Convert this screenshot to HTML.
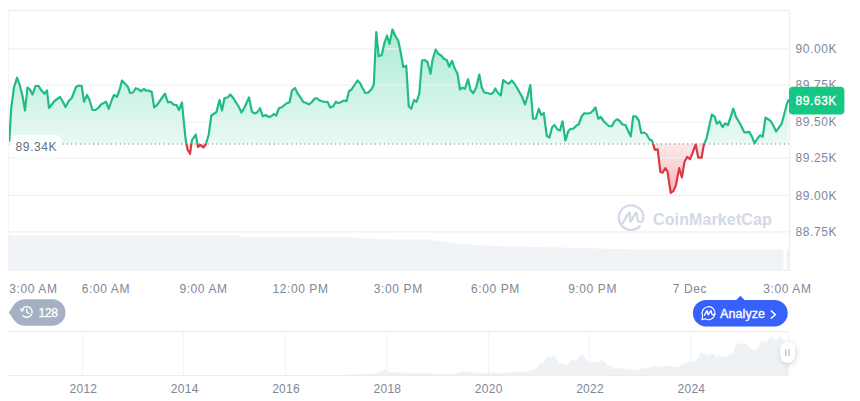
<!DOCTYPE html>
<html><head><meta charset="utf-8"><title>Chart</title>
<style>
html,body{margin:0;padding:0;background:#fff;}
body{width:860px;height:401px;overflow:hidden;font-family:"Liberation Sans",sans-serif;}
svg{display:block;}
.g{stroke:#eaecef;stroke-width:1;shape-rendering:crispEdges;}
.h{stroke:#eef0f3;stroke-width:1.2;}
.v{stroke:#f2f4f7;stroke-width:1;shape-rendering:crispEdges;}
.t{font-family:"Liberation Sans",sans-serif;font-size:12px;fill:#7e8799;letter-spacing:0.6px;}
</style></head><body>
<svg width="860" height="401" viewBox="0 0 860 401">
<defs>
<linearGradient id="gg" gradientUnits="userSpaceOnUse" x1="0" y1="28" x2="0" y2="143.5">
<stop offset="0" stop-color="#16c784" stop-opacity="0.36"/><stop offset="1" stop-color="#16c784" stop-opacity="0.10"/></linearGradient>
<linearGradient id="rg" gradientUnits="userSpaceOnUse" x1="0" y1="143.5" x2="0" y2="196">
<stop offset="0" stop-color="#ea3943" stop-opacity="0.10"/><stop offset="1" stop-color="#ea3943" stop-opacity="0.40"/></linearGradient>
<pattern id="vp" patternUnits="userSpaceOnUse" x="7.7" y="0" width="2.708" height="40"><rect x="0" y="0" width="2.708" height="40" fill="#f9fafc"/><rect x="0.2" y="0" width="2.1" height="40" fill="#eef1f5"/></pattern>
<clipPath id="up"><rect x="9" y="0" width="781" height="143.5"/></clipPath>
<clipPath id="dn"><rect x="9" y="143.5" width="781" height="200"/></clipPath>
<filter id="sh" x="-50%" y="-50%" width="200%" height="200%"><feDropShadow dx="0.5" dy="1.5" stdDeviation="2.4" flood-color="#58667e" flood-opacity="0.3"/></filter>
</defs>
<rect width="860" height="401" fill="#fff"/>
<!-- frame + grid -->
<line x1="8" x2="789" y1="10.5" y2="10.5" class="g"/>
<line x1="8" x2="789" y1="270.5" y2="270.5" class="g"/>
<line x1="8.5" x2="8.5" y1="10" y2="271" class="v"/>
<line x1="789.5" x2="789.5" y1="10" y2="271" class="g"/>
<!-- volume -->
<path d="M7.7,271 L7.7,235.2 L238,235.2 L240,236.8 L348,237 L360,238.6 L400,239.4 L428,239.6 L440,241.3 L458,243.6 L481,245.5 L512,246.4 L560,247.6 L600,248.4 L640,249.4 L783.2,249.6 L783.2,271 Z" fill="url(#vp)"/>
<rect x="786.3" y="249.6" width="2.3" height="21.4" fill="#eef1f5"/>
<!-- watermark -->
<g opacity="1">
<g transform="translate(631.1,217.6)" fill="none" stroke="#d3d9e5" stroke-width="2.25" stroke-linecap="round" stroke-linejoin="round">
<path d="M8.85,8.54 A12.3,12.3 0 1 1 12.18,1.71 Q11.3,4.5 8.9,4.4 Q6.6,4.3 6.3,1.5 L5.9,-3.0 Q5.6,-5.6 4.0,-3.8 L0.0,3.4 Q-0.9,4.8 -1.0,3.0 L-1.2,-3.8 Q-1.5,-6.4 -3.0,-4.0 L-8.6,5.9"/>
</g>
<text x="653" y="224.6" font-family="Liberation Sans, sans-serif" font-weight="bold" font-size="16px" fill="#d3d9e5" letter-spacing="0.12">CoinMarketCap</text>
</g>
<!-- price area + line -->
<g clip-path="url(#up)"><path d="M9.30,141.00 L11.25,107.50 L14.00,87.50 L17.00,77.70 L20.00,86.00 L22.50,96.00 L25.00,110.50 L27.50,87.50 L30.00,89.50 L32.50,94.50 L35.50,86.00 L38.75,86.00 L41.00,90.00 L44.50,93.75 L47.00,90.50 L49.00,108.00 L51.00,105.50 L54.50,101.00 L60.00,97.00 L62.50,101.00 L65.50,107.00 L68.75,101.00 L71.75,98.00 L76.00,87.00 L78.75,85.50 L81.75,86.00 L84.00,101.75 L87.00,95.00 L89.50,100.00 L92.50,110.00 L95.50,110.00 L98.75,107.50 L101.00,104.50 L106.00,101.75 L108.75,108.75 L111.75,100.00 L114.00,95.00 L117.00,96.75 L119.50,90.00 L122.00,80.50 L125.00,83.75 L128.00,87.00 L130.00,93.00 L133.00,92.50 L135.75,88.25 L138.75,89.50 L141.25,91.25 L143.75,89.00 L146.25,90.75 L148.75,90.50 L151.75,92.00 L154.25,107.50 L157.00,105.00 L160.00,100.75 L165.00,93.75 L168.00,102.50 L170.50,101.75 L172.50,103.75 L174.50,105.00 L176.50,105.00 L179.00,110.00 L182.00,102.50 L184.00,123.75 L185.75,140.00 L187.50,149.50 L190.00,153.75 L192.00,140.00 L195.75,134.50 L198.00,147.00 L200.50,144.80 L203.25,147.50 L205.75,144.50 L208.75,134.50 L211.25,115.75 L214.00,113.75 L216.50,112.00 L219.50,100.00 L222.00,110.50 L224.50,98.00 L227.50,97.50 L230.25,94.50 L233.25,98.00 L235.75,102.00 L238.75,106.75 L241.50,112.50 L244.50,107.50 L249.00,97.50 L252.00,112.00 L255.00,113.50 L257.50,112.00 L260.00,108.25 L262.75,116.25 L265.75,115.00 L268.75,117.00 L271.25,116.25 L273.75,114.00 L276.25,115.50 L279.00,108.00 L281.50,107.50 L284.50,105.00 L287.00,103.00 L289.50,102.50 L292.00,90.50 L295.00,88.00 L297.75,93.75 L300.25,97.00 L303.25,102.00 L306.50,103.00 L309.00,104.50 L311.50,102.50 L314.50,98.75 L316.50,98.00 L319.00,100.00 L322.00,101.25 L325.00,102.00 L327.50,101.75 L330.25,107.50 L333.25,106.25 L335.75,101.75 L338.25,103.25 L341.25,102.00 L344.00,100.50 L346.50,101.25 L349.00,91.25 L351.50,89.50 L354.50,85.00 L357.50,80.50 L360.00,83.00 L362.50,88.00 L365.25,93.00 L368.25,92.50 L371.25,89.50 L373.75,85.00 L376.25,32.00 L378.75,56.25 L381.75,55.00 L384.50,42.50 L387.00,35.50 L389.50,43.75 L392.50,29.50 L395.50,36.25 L398.25,40.75 L400.75,52.50 L403.25,67.00 L406.25,65.75 L408.75,106.25 L411.25,108.75 L414.00,100.00 L416.50,102.00 L419.25,93.75 L422.00,60.50 L424.50,60.00 L427.50,62.00 L430.50,73.75 L432.50,60.00 L435.75,49.50 L438.25,53.75 L441.25,55.50 L443.75,58.75 L446.75,60.00 L449.25,66.75 L452.00,60.75 L454.50,68.00 L457.50,73.75 L460.00,89.50 L462.50,87.50 L465.00,88.75 L468.00,79.25 L470.50,90.00 L473.25,93.25 L476.25,87.50 L479.25,74.50 L481.75,87.50 L484.25,92.50 L487.50,93.00 L490.50,94.00 L493.00,93.00 L495.25,88.50 L498.00,93.00 L500.75,95.50 L503.25,80.00 L506.25,82.50 L508.75,83.75 L511.75,80.50 L514.50,83.75 L517.50,88.75 L522.00,96.75 L525.00,104.50 L527.50,96.50 L530.30,85.00 L533.00,118.75 L535.75,118.75 L538.75,108.75 L541.25,115.00 L543.75,113.00 L546.75,135.75 L549.50,137.50 L552.00,127.50 L554.50,125.00 L557.50,129.50 L560.00,130.50 L562.50,121.25 L565.50,140.50 L568.25,131.25 L570.75,128.75 L573.25,128.75 L576.25,125.75 L578.75,124.25 L581.75,116.25 L584.25,113.25 L587.50,113.50 L590.50,113.00 L593.00,110.75 L595.50,107.50 L598.25,118.75 L600.75,117.00 L603.75,121.25 L606.25,123.75 L609.25,126.25 L611.75,126.25 L614.50,121.25 L617.00,119.25 L620.00,121.25 L622.50,124.50 L625.50,125.00 L628.25,131.25 L630.75,136.25 L633.25,116.25 L635.75,116.25 L638.75,120.50 L641.25,133.00 L644.25,132.50 L646.75,134.50 L649.50,139.50 L652.00,140.50 L654.90,149.90 L657.70,149.30 L660.40,172.00 L662.60,172.60 L665.40,168.20 L667.50,171.50 L670.70,192.90 L673.50,190.90 L675.90,185.20 L679.20,168.20 L681.90,177.50 L684.50,161.70 L687.30,156.90 L690.00,159.30 L692.90,152.00 L695.70,144.50 L698.30,157.70 L701.50,157.70 L704.00,143.90 L706.50,138.60 L709.40,125.50 L711.80,114.70 L714.60,116.50 L716.80,123.70 L719.60,121.40 L722.50,127.00 L725.30,123.30 L728.00,125.10 L730.90,116.20 L733.30,108.70 L736.10,117.10 L738.90,121.80 L741.50,126.50 L744.30,132.40 L746.80,132.40 L749.20,131.70 L752.00,136.80 L754.60,143.30 L757.10,139.00 L759.90,135.30 L762.70,136.80 L765.50,117.70 L768.30,119.30 L770.70,121.20 L773.50,125.90 L776.20,131.50 L779.00,127.40 L781.80,123.30 L784.20,114.30 L786.60,104.90 L788.30,100.30 L788.30,143.5 L9.30,143.5 Z" fill="url(#gg)"/></g>
<g clip-path="url(#dn)"><path d="M9.30,141.00 L11.25,107.50 L14.00,87.50 L17.00,77.70 L20.00,86.00 L22.50,96.00 L25.00,110.50 L27.50,87.50 L30.00,89.50 L32.50,94.50 L35.50,86.00 L38.75,86.00 L41.00,90.00 L44.50,93.75 L47.00,90.50 L49.00,108.00 L51.00,105.50 L54.50,101.00 L60.00,97.00 L62.50,101.00 L65.50,107.00 L68.75,101.00 L71.75,98.00 L76.00,87.00 L78.75,85.50 L81.75,86.00 L84.00,101.75 L87.00,95.00 L89.50,100.00 L92.50,110.00 L95.50,110.00 L98.75,107.50 L101.00,104.50 L106.00,101.75 L108.75,108.75 L111.75,100.00 L114.00,95.00 L117.00,96.75 L119.50,90.00 L122.00,80.50 L125.00,83.75 L128.00,87.00 L130.00,93.00 L133.00,92.50 L135.75,88.25 L138.75,89.50 L141.25,91.25 L143.75,89.00 L146.25,90.75 L148.75,90.50 L151.75,92.00 L154.25,107.50 L157.00,105.00 L160.00,100.75 L165.00,93.75 L168.00,102.50 L170.50,101.75 L172.50,103.75 L174.50,105.00 L176.50,105.00 L179.00,110.00 L182.00,102.50 L184.00,123.75 L185.75,140.00 L187.50,149.50 L190.00,153.75 L192.00,140.00 L195.75,134.50 L198.00,147.00 L200.50,144.80 L203.25,147.50 L205.75,144.50 L208.75,134.50 L211.25,115.75 L214.00,113.75 L216.50,112.00 L219.50,100.00 L222.00,110.50 L224.50,98.00 L227.50,97.50 L230.25,94.50 L233.25,98.00 L235.75,102.00 L238.75,106.75 L241.50,112.50 L244.50,107.50 L249.00,97.50 L252.00,112.00 L255.00,113.50 L257.50,112.00 L260.00,108.25 L262.75,116.25 L265.75,115.00 L268.75,117.00 L271.25,116.25 L273.75,114.00 L276.25,115.50 L279.00,108.00 L281.50,107.50 L284.50,105.00 L287.00,103.00 L289.50,102.50 L292.00,90.50 L295.00,88.00 L297.75,93.75 L300.25,97.00 L303.25,102.00 L306.50,103.00 L309.00,104.50 L311.50,102.50 L314.50,98.75 L316.50,98.00 L319.00,100.00 L322.00,101.25 L325.00,102.00 L327.50,101.75 L330.25,107.50 L333.25,106.25 L335.75,101.75 L338.25,103.25 L341.25,102.00 L344.00,100.50 L346.50,101.25 L349.00,91.25 L351.50,89.50 L354.50,85.00 L357.50,80.50 L360.00,83.00 L362.50,88.00 L365.25,93.00 L368.25,92.50 L371.25,89.50 L373.75,85.00 L376.25,32.00 L378.75,56.25 L381.75,55.00 L384.50,42.50 L387.00,35.50 L389.50,43.75 L392.50,29.50 L395.50,36.25 L398.25,40.75 L400.75,52.50 L403.25,67.00 L406.25,65.75 L408.75,106.25 L411.25,108.75 L414.00,100.00 L416.50,102.00 L419.25,93.75 L422.00,60.50 L424.50,60.00 L427.50,62.00 L430.50,73.75 L432.50,60.00 L435.75,49.50 L438.25,53.75 L441.25,55.50 L443.75,58.75 L446.75,60.00 L449.25,66.75 L452.00,60.75 L454.50,68.00 L457.50,73.75 L460.00,89.50 L462.50,87.50 L465.00,88.75 L468.00,79.25 L470.50,90.00 L473.25,93.25 L476.25,87.50 L479.25,74.50 L481.75,87.50 L484.25,92.50 L487.50,93.00 L490.50,94.00 L493.00,93.00 L495.25,88.50 L498.00,93.00 L500.75,95.50 L503.25,80.00 L506.25,82.50 L508.75,83.75 L511.75,80.50 L514.50,83.75 L517.50,88.75 L522.00,96.75 L525.00,104.50 L527.50,96.50 L530.30,85.00 L533.00,118.75 L535.75,118.75 L538.75,108.75 L541.25,115.00 L543.75,113.00 L546.75,135.75 L549.50,137.50 L552.00,127.50 L554.50,125.00 L557.50,129.50 L560.00,130.50 L562.50,121.25 L565.50,140.50 L568.25,131.25 L570.75,128.75 L573.25,128.75 L576.25,125.75 L578.75,124.25 L581.75,116.25 L584.25,113.25 L587.50,113.50 L590.50,113.00 L593.00,110.75 L595.50,107.50 L598.25,118.75 L600.75,117.00 L603.75,121.25 L606.25,123.75 L609.25,126.25 L611.75,126.25 L614.50,121.25 L617.00,119.25 L620.00,121.25 L622.50,124.50 L625.50,125.00 L628.25,131.25 L630.75,136.25 L633.25,116.25 L635.75,116.25 L638.75,120.50 L641.25,133.00 L644.25,132.50 L646.75,134.50 L649.50,139.50 L652.00,140.50 L654.90,149.90 L657.70,149.30 L660.40,172.00 L662.60,172.60 L665.40,168.20 L667.50,171.50 L670.70,192.90 L673.50,190.90 L675.90,185.20 L679.20,168.20 L681.90,177.50 L684.50,161.70 L687.30,156.90 L690.00,159.30 L692.90,152.00 L695.70,144.50 L698.30,157.70 L701.50,157.70 L704.00,143.90 L706.50,138.60 L709.40,125.50 L711.80,114.70 L714.60,116.50 L716.80,123.70 L719.60,121.40 L722.50,127.00 L725.30,123.30 L728.00,125.10 L730.90,116.20 L733.30,108.70 L736.10,117.10 L738.90,121.80 L741.50,126.50 L744.30,132.40 L746.80,132.40 L749.20,131.70 L752.00,136.80 L754.60,143.30 L757.10,139.00 L759.90,135.30 L762.70,136.80 L765.50,117.70 L768.30,119.30 L770.70,121.20 L773.50,125.90 L776.20,131.50 L779.00,127.40 L781.80,123.30 L784.20,114.30 L786.60,104.90 L788.30,100.30 L788.30,143.5 L9.30,143.5 Z" fill="url(#rg)"/></g>
<line x1="8" x2="789" y1="48.9" y2="48.9" class="h"/>
<line x1="8" x2="789" y1="85.0" y2="85.0" class="h"/>
<line x1="8" x2="789" y1="122.1" y2="122.1" class="h"/>
<line x1="8" x2="789" y1="158.2" y2="158.2" class="h"/>
<line x1="8" x2="789" y1="195.4" y2="195.4" class="h"/>
<line x1="8" x2="789" y1="231.9" y2="231.9" class="h"/>
<line x1="9.6" x2="789" y1="144" y2="144" stroke="#9ea4b0" stroke-width="1.3" stroke-dasharray="1.2 3.2"/>
<g clip-path="url(#up)"><path d="M9.30,141.00 L11.25,107.50 L14.00,87.50 L17.00,77.70 L20.00,86.00 L22.50,96.00 L25.00,110.50 L27.50,87.50 L30.00,89.50 L32.50,94.50 L35.50,86.00 L38.75,86.00 L41.00,90.00 L44.50,93.75 L47.00,90.50 L49.00,108.00 L51.00,105.50 L54.50,101.00 L60.00,97.00 L62.50,101.00 L65.50,107.00 L68.75,101.00 L71.75,98.00 L76.00,87.00 L78.75,85.50 L81.75,86.00 L84.00,101.75 L87.00,95.00 L89.50,100.00 L92.50,110.00 L95.50,110.00 L98.75,107.50 L101.00,104.50 L106.00,101.75 L108.75,108.75 L111.75,100.00 L114.00,95.00 L117.00,96.75 L119.50,90.00 L122.00,80.50 L125.00,83.75 L128.00,87.00 L130.00,93.00 L133.00,92.50 L135.75,88.25 L138.75,89.50 L141.25,91.25 L143.75,89.00 L146.25,90.75 L148.75,90.50 L151.75,92.00 L154.25,107.50 L157.00,105.00 L160.00,100.75 L165.00,93.75 L168.00,102.50 L170.50,101.75 L172.50,103.75 L174.50,105.00 L176.50,105.00 L179.00,110.00 L182.00,102.50 L184.00,123.75 L185.75,140.00 L187.50,149.50 L190.00,153.75 L192.00,140.00 L195.75,134.50 L198.00,147.00 L200.50,144.80 L203.25,147.50 L205.75,144.50 L208.75,134.50 L211.25,115.75 L214.00,113.75 L216.50,112.00 L219.50,100.00 L222.00,110.50 L224.50,98.00 L227.50,97.50 L230.25,94.50 L233.25,98.00 L235.75,102.00 L238.75,106.75 L241.50,112.50 L244.50,107.50 L249.00,97.50 L252.00,112.00 L255.00,113.50 L257.50,112.00 L260.00,108.25 L262.75,116.25 L265.75,115.00 L268.75,117.00 L271.25,116.25 L273.75,114.00 L276.25,115.50 L279.00,108.00 L281.50,107.50 L284.50,105.00 L287.00,103.00 L289.50,102.50 L292.00,90.50 L295.00,88.00 L297.75,93.75 L300.25,97.00 L303.25,102.00 L306.50,103.00 L309.00,104.50 L311.50,102.50 L314.50,98.75 L316.50,98.00 L319.00,100.00 L322.00,101.25 L325.00,102.00 L327.50,101.75 L330.25,107.50 L333.25,106.25 L335.75,101.75 L338.25,103.25 L341.25,102.00 L344.00,100.50 L346.50,101.25 L349.00,91.25 L351.50,89.50 L354.50,85.00 L357.50,80.50 L360.00,83.00 L362.50,88.00 L365.25,93.00 L368.25,92.50 L371.25,89.50 L373.75,85.00 L376.25,32.00 L378.75,56.25 L381.75,55.00 L384.50,42.50 L387.00,35.50 L389.50,43.75 L392.50,29.50 L395.50,36.25 L398.25,40.75 L400.75,52.50 L403.25,67.00 L406.25,65.75 L408.75,106.25 L411.25,108.75 L414.00,100.00 L416.50,102.00 L419.25,93.75 L422.00,60.50 L424.50,60.00 L427.50,62.00 L430.50,73.75 L432.50,60.00 L435.75,49.50 L438.25,53.75 L441.25,55.50 L443.75,58.75 L446.75,60.00 L449.25,66.75 L452.00,60.75 L454.50,68.00 L457.50,73.75 L460.00,89.50 L462.50,87.50 L465.00,88.75 L468.00,79.25 L470.50,90.00 L473.25,93.25 L476.25,87.50 L479.25,74.50 L481.75,87.50 L484.25,92.50 L487.50,93.00 L490.50,94.00 L493.00,93.00 L495.25,88.50 L498.00,93.00 L500.75,95.50 L503.25,80.00 L506.25,82.50 L508.75,83.75 L511.75,80.50 L514.50,83.75 L517.50,88.75 L522.00,96.75 L525.00,104.50 L527.50,96.50 L530.30,85.00 L533.00,118.75 L535.75,118.75 L538.75,108.75 L541.25,115.00 L543.75,113.00 L546.75,135.75 L549.50,137.50 L552.00,127.50 L554.50,125.00 L557.50,129.50 L560.00,130.50 L562.50,121.25 L565.50,140.50 L568.25,131.25 L570.75,128.75 L573.25,128.75 L576.25,125.75 L578.75,124.25 L581.75,116.25 L584.25,113.25 L587.50,113.50 L590.50,113.00 L593.00,110.75 L595.50,107.50 L598.25,118.75 L600.75,117.00 L603.75,121.25 L606.25,123.75 L609.25,126.25 L611.75,126.25 L614.50,121.25 L617.00,119.25 L620.00,121.25 L622.50,124.50 L625.50,125.00 L628.25,131.25 L630.75,136.25 L633.25,116.25 L635.75,116.25 L638.75,120.50 L641.25,133.00 L644.25,132.50 L646.75,134.50 L649.50,139.50 L652.00,140.50 L654.90,149.90 L657.70,149.30 L660.40,172.00 L662.60,172.60 L665.40,168.20 L667.50,171.50 L670.70,192.90 L673.50,190.90 L675.90,185.20 L679.20,168.20 L681.90,177.50 L684.50,161.70 L687.30,156.90 L690.00,159.30 L692.90,152.00 L695.70,144.50 L698.30,157.70 L701.50,157.70 L704.00,143.90 L706.50,138.60 L709.40,125.50 L711.80,114.70 L714.60,116.50 L716.80,123.70 L719.60,121.40 L722.50,127.00 L725.30,123.30 L728.00,125.10 L730.90,116.20 L733.30,108.70 L736.10,117.10 L738.90,121.80 L741.50,126.50 L744.30,132.40 L746.80,132.40 L749.20,131.70 L752.00,136.80 L754.60,143.30 L757.10,139.00 L759.90,135.30 L762.70,136.80 L765.50,117.70 L768.30,119.30 L770.70,121.20 L773.50,125.90 L776.20,131.50 L779.00,127.40 L781.80,123.30 L784.20,114.30 L786.60,104.90 L788.30,100.30" fill="none" stroke="#20bc83" stroke-width="2.2" stroke-linejoin="round" stroke-linecap="round"/></g>
<g clip-path="url(#dn)"><path d="M9.30,141.00 L11.25,107.50 L14.00,87.50 L17.00,77.70 L20.00,86.00 L22.50,96.00 L25.00,110.50 L27.50,87.50 L30.00,89.50 L32.50,94.50 L35.50,86.00 L38.75,86.00 L41.00,90.00 L44.50,93.75 L47.00,90.50 L49.00,108.00 L51.00,105.50 L54.50,101.00 L60.00,97.00 L62.50,101.00 L65.50,107.00 L68.75,101.00 L71.75,98.00 L76.00,87.00 L78.75,85.50 L81.75,86.00 L84.00,101.75 L87.00,95.00 L89.50,100.00 L92.50,110.00 L95.50,110.00 L98.75,107.50 L101.00,104.50 L106.00,101.75 L108.75,108.75 L111.75,100.00 L114.00,95.00 L117.00,96.75 L119.50,90.00 L122.00,80.50 L125.00,83.75 L128.00,87.00 L130.00,93.00 L133.00,92.50 L135.75,88.25 L138.75,89.50 L141.25,91.25 L143.75,89.00 L146.25,90.75 L148.75,90.50 L151.75,92.00 L154.25,107.50 L157.00,105.00 L160.00,100.75 L165.00,93.75 L168.00,102.50 L170.50,101.75 L172.50,103.75 L174.50,105.00 L176.50,105.00 L179.00,110.00 L182.00,102.50 L184.00,123.75 L185.75,140.00 L187.50,149.50 L190.00,153.75 L192.00,140.00 L195.75,134.50 L198.00,147.00 L200.50,144.80 L203.25,147.50 L205.75,144.50 L208.75,134.50 L211.25,115.75 L214.00,113.75 L216.50,112.00 L219.50,100.00 L222.00,110.50 L224.50,98.00 L227.50,97.50 L230.25,94.50 L233.25,98.00 L235.75,102.00 L238.75,106.75 L241.50,112.50 L244.50,107.50 L249.00,97.50 L252.00,112.00 L255.00,113.50 L257.50,112.00 L260.00,108.25 L262.75,116.25 L265.75,115.00 L268.75,117.00 L271.25,116.25 L273.75,114.00 L276.25,115.50 L279.00,108.00 L281.50,107.50 L284.50,105.00 L287.00,103.00 L289.50,102.50 L292.00,90.50 L295.00,88.00 L297.75,93.75 L300.25,97.00 L303.25,102.00 L306.50,103.00 L309.00,104.50 L311.50,102.50 L314.50,98.75 L316.50,98.00 L319.00,100.00 L322.00,101.25 L325.00,102.00 L327.50,101.75 L330.25,107.50 L333.25,106.25 L335.75,101.75 L338.25,103.25 L341.25,102.00 L344.00,100.50 L346.50,101.25 L349.00,91.25 L351.50,89.50 L354.50,85.00 L357.50,80.50 L360.00,83.00 L362.50,88.00 L365.25,93.00 L368.25,92.50 L371.25,89.50 L373.75,85.00 L376.25,32.00 L378.75,56.25 L381.75,55.00 L384.50,42.50 L387.00,35.50 L389.50,43.75 L392.50,29.50 L395.50,36.25 L398.25,40.75 L400.75,52.50 L403.25,67.00 L406.25,65.75 L408.75,106.25 L411.25,108.75 L414.00,100.00 L416.50,102.00 L419.25,93.75 L422.00,60.50 L424.50,60.00 L427.50,62.00 L430.50,73.75 L432.50,60.00 L435.75,49.50 L438.25,53.75 L441.25,55.50 L443.75,58.75 L446.75,60.00 L449.25,66.75 L452.00,60.75 L454.50,68.00 L457.50,73.75 L460.00,89.50 L462.50,87.50 L465.00,88.75 L468.00,79.25 L470.50,90.00 L473.25,93.25 L476.25,87.50 L479.25,74.50 L481.75,87.50 L484.25,92.50 L487.50,93.00 L490.50,94.00 L493.00,93.00 L495.25,88.50 L498.00,93.00 L500.75,95.50 L503.25,80.00 L506.25,82.50 L508.75,83.75 L511.75,80.50 L514.50,83.75 L517.50,88.75 L522.00,96.75 L525.00,104.50 L527.50,96.50 L530.30,85.00 L533.00,118.75 L535.75,118.75 L538.75,108.75 L541.25,115.00 L543.75,113.00 L546.75,135.75 L549.50,137.50 L552.00,127.50 L554.50,125.00 L557.50,129.50 L560.00,130.50 L562.50,121.25 L565.50,140.50 L568.25,131.25 L570.75,128.75 L573.25,128.75 L576.25,125.75 L578.75,124.25 L581.75,116.25 L584.25,113.25 L587.50,113.50 L590.50,113.00 L593.00,110.75 L595.50,107.50 L598.25,118.75 L600.75,117.00 L603.75,121.25 L606.25,123.75 L609.25,126.25 L611.75,126.25 L614.50,121.25 L617.00,119.25 L620.00,121.25 L622.50,124.50 L625.50,125.00 L628.25,131.25 L630.75,136.25 L633.25,116.25 L635.75,116.25 L638.75,120.50 L641.25,133.00 L644.25,132.50 L646.75,134.50 L649.50,139.50 L652.00,140.50 L654.90,149.90 L657.70,149.30 L660.40,172.00 L662.60,172.60 L665.40,168.20 L667.50,171.50 L670.70,192.90 L673.50,190.90 L675.90,185.20 L679.20,168.20 L681.90,177.50 L684.50,161.70 L687.30,156.90 L690.00,159.30 L692.90,152.00 L695.70,144.50 L698.30,157.70 L701.50,157.70 L704.00,143.90 L706.50,138.60 L709.40,125.50 L711.80,114.70 L714.60,116.50 L716.80,123.70 L719.60,121.40 L722.50,127.00 L725.30,123.30 L728.00,125.10 L730.90,116.20 L733.30,108.70 L736.10,117.10 L738.90,121.80 L741.50,126.50 L744.30,132.40 L746.80,132.40 L749.20,131.70 L752.00,136.80 L754.60,143.30 L757.10,139.00 L759.90,135.30 L762.70,136.80 L765.50,117.70 L768.30,119.30 L770.70,121.20 L773.50,125.90 L776.20,131.50 L779.00,127.40 L781.80,123.30 L784.20,114.30 L786.60,104.90 L788.30,100.30" fill="none" stroke="#d93b46" stroke-width="2.2" stroke-linejoin="round" stroke-linecap="round"/></g>
<!-- open price label -->
<rect x="10.3" y="134.7" width="51.2" height="23.7" rx="7" fill="#fff" fill-opacity="0.92"/>
<text x="15.6" y="151.1" class="t" style="fill:#616e85">89.34K</text>
<!-- y labels -->
<text x="795.6" y="53.1" class="t">90.00K</text>
<text x="795.6" y="89.2" class="t">89.75K</text>
<text x="795.6" y="126.3" class="t">89.50K</text>
<text x="795.6" y="162.4" class="t">89.25K</text>
<text x="795.6" y="199.6" class="t">89.00K</text>
<text x="795.6" y="236.1" class="t">88.75K</text>
<!-- current price tag -->
<rect x="789" y="86.8" width="55.4" height="27.8" rx="4" fill="#16c784"/>
<text x="795.6" y="105.2" font-family="Liberation Sans, sans-serif" font-size="12px" fill="#fff" letter-spacing="0.55" stroke="#fff" stroke-width="0.35">89.63K</text>
<!-- x labels -->
<text x="9.3" y="292.5" text-anchor="start" class="t">3:00 AM</text>
<text x="105.9" y="292.5" text-anchor="middle" class="t">6:00 AM</text>
<text x="203.5" y="292.5" text-anchor="middle" class="t">9:00 AM</text>
<text x="300.5" y="292.5" text-anchor="middle" class="t">12:00 PM</text>
<text x="398.3" y="292.5" text-anchor="middle" class="t">3:00 PM</text>
<text x="495.5" y="292.5" text-anchor="middle" class="t">6:00 PM</text>
<text x="592.6" y="292.5" text-anchor="middle" class="t">9:00 PM</text>
<text x="690" y="292.5" text-anchor="middle" class="t">7 Dec</text>
<text x="787.4" y="292.5" text-anchor="middle" class="t">3:00 AM</text>
<!-- history badge -->
<rect x="11.6" y="299.2" width="53.9" height="26.5" rx="13.25" fill="#a6b0c3"/>
<path d="M8.8,312.4 L13.4,305.6 L13.4,319.2 Z" fill="#a6b0c3"/>
<g transform="translate(26.8,311.9)" fill="none" stroke="#fff" stroke-width="1.35" stroke-linecap="round" stroke-linejoin="round">
<path d="M-5.1,-1.3 A5.3,5.3 0 1 1 -3.9,3.6"/>
<path d="M-6.3,-2.9 L-5.2,-1.0 L-3.2,-1.9" stroke-width="1.2"/>
<path d="M0.0,-3.0 L0.0,0.3 L2.3,1.6"/>
</g>
<text x="38.6" y="316.6" font-family="Liberation Sans, sans-serif" font-size="12px" fill="#fff" stroke="#fff" stroke-width="0.3" letter-spacing="-0.35">128</text>
<!-- analyze pill -->
<path d="M735.7,300.4 L740.4,295.8 L745.1,300.4 Z" fill="#3861fb"/>
<rect x="692.9" y="300" width="94.8" height="26.4" rx="13.2" fill="#3861fb"/>
<g transform="translate(708.5,313.1)" fill="none" stroke="#fff" stroke-linecap="round" stroke-linejoin="round">
<path d="M-5.9,2.7 A6.5,6.5 0 1 1 -3.4,5.6 L-6.5,6.7 Z" stroke-width="1.15"/>
<path d="M-4.0,2.0 L-1.9,-1.9 Q-1.3,-2.8 -1.1,-1.7 L-0.6,1.3 Q-0.4,2.2 0.1,1.3 L1.9,-1.9 Q2.6,-2.8 2.8,-1.7 L3.2,0.6 Q3.5,1.9 4.6,1.7 Q5.7,1.5 6.4,0.6" stroke-width="1.35"/>
</g>
<text x="720" y="317.9" font-family="Liberation Sans, sans-serif" font-size="12.5px" fill="#fff" stroke="#fff" stroke-width="0.35" letter-spacing="0.1">Analyze</text>
<path d="M771.2,310.9 L775.4,314.6 L771.2,318.3" fill="none" stroke="#fff" stroke-width="1.4" stroke-linecap="round" stroke-linejoin="round"/>
<!-- navigator -->
<line x1="8" x2="788.5" y1="331.5" y2="331.5" class="g"/>
<line x1="8" x2="788.5" y1="375.5" y2="375.5" class="g"/>
<line x1="788.5" x2="788.5" y1="331" y2="376" class="v"/>
<line x1="82.6" x2="82.6" y1="331" y2="375" class="v"/>
<line x1="183.9" x2="183.9" y1="331" y2="375" class="v"/>
<line x1="285.3" x2="285.3" y1="331" y2="375" class="v"/>
<line x1="386.6" x2="386.6" y1="331" y2="375" class="v"/>
<line x1="488.0" x2="488.0" y1="331" y2="375" class="v"/>
<line x1="589.3" x2="589.3" y1="331" y2="375" class="v"/>
<line x1="690.6" x2="690.6" y1="331" y2="375" class="v"/>
<path d="M9.13,375.30 L52.20,375.29 L143.40,375.27 L148.47,375.24 L158.60,375.27 L176.34,375.14 L179.89,374.95 L183.94,375.04 L209.28,375.11 L234.61,375.20 L285.28,375.16 L310.62,375.09 L335.95,374.98 L356.22,374.56 L368.89,373.86 L376.49,373.22 L381.55,371.78 L384.59,369.22 L387.63,370.82 L391.69,372.42 L395.23,371.78 L401.82,372.90 L406.89,372.42 L411.96,373.22 L417.02,372.90 L429.69,373.25 L434.76,374.18 L447.42,374.05 L455.02,373.38 L462.62,371.46 L467.69,372.10 L475.29,372.68 L485.43,373.00 L494.04,372.16 L498.09,373.54 L508.23,372.32 L518.36,371.62 L525.96,371.84 L531.03,370.50 L534.58,369.22 L538.63,366.02 L540.15,363.14 L542.18,364.74 L545.72,358.66 L548.76,356.74 L550.79,357.70 L553.32,355.14 L556.36,357.38 L558.39,363.14 L561.43,363.78 L563.97,364.42 L566.50,365.38 L570.05,360.90 L573.09,359.62 L575.62,361.54 L578.15,357.70 L580.18,355.46 L582.21,353.86 L584.23,357.06 L586.77,360.26 L591.83,363.14 L594.37,361.54 L597.91,362.82 L601.46,360.26 L605.51,362.50 L608.05,365.70 L612.10,366.02 L613.11,368.90 L619.70,367.94 L622.24,368.90 L629.84,369.06 L632.88,370.02 L638.96,369.99 L642.50,367.94 L650.10,367.62 L651.12,366.34 L655.17,365.70 L660.24,366.66 L663.78,366.98 L665.31,365.54 L670.37,365.92 L672.40,366.98 L679.49,366.66 L681.52,364.42 L685.57,363.46 L688.11,361.54 L693.17,361.86 L695.71,359.94 L697.73,358.66 L699.25,355.46 L700.77,352.58 L703.31,353.54 L705.84,354.82 L707.87,356.10 L710.91,353.54 L713.95,354.18 L715.98,355.78 L716.99,357.38 L720.03,354.18 L721.04,356.74 L725.10,356.42 L726.11,357.70 L728.64,355.14 L731.18,353.86 L733.20,353.22 L734.72,347.14 L736.24,344.58 L739.28,342.98 L740.30,345.22 L743.84,342.02 L746.38,344.26 L748.91,347.78 L751.44,348.74 L754.99,350.66 L756.51,348.42 L758.54,345.22 L761.07,342.02 L762.59,340.42 L765.12,342.02 L767.66,340.74 L768.67,337.54 L770.70,338.18 L772.73,336.26 L774.75,340.10 L776.78,339.46 L778.81,338.18 L780.33,335.30 L781.85,339.46 L783.87,340.74 L785.39,343.30 L786.41,347.46 L788.43,346.63 L788.43,375.3 L9.13,375.3 Z" fill="#eff2f5"/>
<text x="83.4" y="392.9" text-anchor="middle" class="t" style="letter-spacing:0.3px">2012</text>
<text x="184.7" y="392.9" text-anchor="middle" class="t" style="letter-spacing:0.3px">2014</text>
<text x="286.1" y="392.9" text-anchor="middle" class="t" style="letter-spacing:0.3px">2016</text>
<text x="387.4" y="392.9" text-anchor="middle" class="t" style="letter-spacing:0.3px">2018</text>
<text x="488.8" y="392.9" text-anchor="middle" class="t" style="letter-spacing:0.3px">2020</text>
<text x="590.1" y="392.9" text-anchor="middle" class="t" style="letter-spacing:0.3px">2022</text>
<text x="691.4" y="392.9" text-anchor="middle" class="t" style="letter-spacing:0.3px">2024</text>
<rect x="780.2" y="342.2" width="14.8" height="20.8" rx="7.4" fill="#fff" filter="url(#sh)"/>
<rect x="785.2" y="349.2" width="1.1" height="6.8" fill="#a6b0c3"/>
<rect x="788.5" y="349.2" width="1.1" height="6.8" fill="#a6b0c3"/>
</svg>
</body></html>
